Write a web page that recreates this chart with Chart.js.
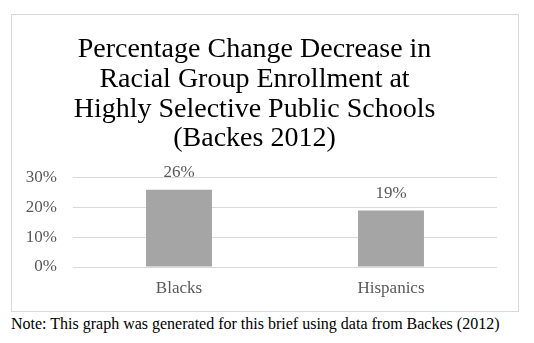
<!DOCTYPE html>
<html lang="en">
<head>
    <meta charset="UTF-8">
    <title>Racial Group Enrollment Change</title>
    <script src="https://cdn.jsdelivr.net/npm/chart.js"></script>
    <style>
        body { margin: 0; background: #fff; width: 534px; height: 343px; position: relative; overflow: hidden; }
        .frame {
            position: absolute; left: 11px; top: 14px;
            width: 506px; height: 296px;
            border: 1px solid #d9d9d9;
        }
        .frame canvas { display: block; }
        .note {
            position: absolute; left: 11px; top: 316px;
            font: 16px/16px "Liberation Serif", "Times New Roman", serif;
            color: #000; white-space: nowrap;
        }
    </style>
</head>
<body>
    <div class="frame">
        <canvas id="enrollChart" width="506" height="296"></canvas>
    </div>
    <div class="note">Note: This graph was generated for this brief using data from Backes (2012)</div>

    <script>
        const titleLines = ['Percentage Change Decrease in', 'Racial Group Enrollment at', 'Highly Selective Public Schools', '(Backes 2012)'];
        const groups = ['Blacks', 'Hispanics'];
        const decreasePct = [26, 19];
        const yTicks = [0, 10, 20, 30];

        const serif = '"Liberation Serif", "Times New Roman", serif';
        const textGray = '#595959';

        // value labels above each bar
        const barLabels = {
            id: 'barLabels',
            afterDatasetsDraw(chart) {
                const ctx = chart.ctx;
                const meta = chart.getDatasetMeta(0);
                ctx.save();
                ctx.font = '17px ' + serif;
                ctx.fillStyle = textGray;
                ctx.textAlign = 'center';
                ctx.textBaseline = 'middle';
                meta.data.forEach((bar, i) => {
                    ctx.fillText(decreasePct[i] + '%', bar.x, bar.y - 17);
                });
                ctx.restore();
            }
        };

        new Chart(document.getElementById('enrollChart'), {
            type: 'bar',
            data: {
                labels: groups,
                datasets: [{
                    data: decreasePct,
                    backgroundColor: '#a5a5a5',
                    barPercentage: 0.311,
                    categoryPercentage: 1
                }]
            },
            options: {
                responsive: false,
                animation: false,
                layout: { padding: { left: 0, right: 21, top: 0, bottom: 0 } },
                plugins: {
                    legend: { display: false },
                    tooltip: { enabled: false },
                    title: {
                        display: true,
                        text: titleLines,
                        color: '#000',
                        font: { family: serif, size: 28, weight: 'normal', lineHeight: 29.7 / 28 },
                        padding: { top: 20, bottom: 24 }
                    }
                },
                scales: {
                    x: {
                        grid: { display: false, drawTicks: false },
                        border: { display: false },
                        ticks: { color: textGray, font: { family: serif, size: 17 }, padding: 11 },
                        afterFit(scale) { scale.height = 44; }
                    },
                    y: {
                        min: 0,
                        max: yTicks[yTicks.length - 1],
                        grid: { color: '#d9d9d9', lineWidth: 1, drawTicks: false },
                        border: { display: false },
                        ticks: {
                            stepSize: yTicks[1] - yTicks[0],
                            color: textGray,
                            font: { family: serif, size: 17 },
                            padding: 16,
                            callback: v => v + '%'
                        },
                        afterFit(scale) { scale.width = 61; }
                    }
                }
            },
            plugins: [barLabels]
        });
    </script>
</body>
</html>
